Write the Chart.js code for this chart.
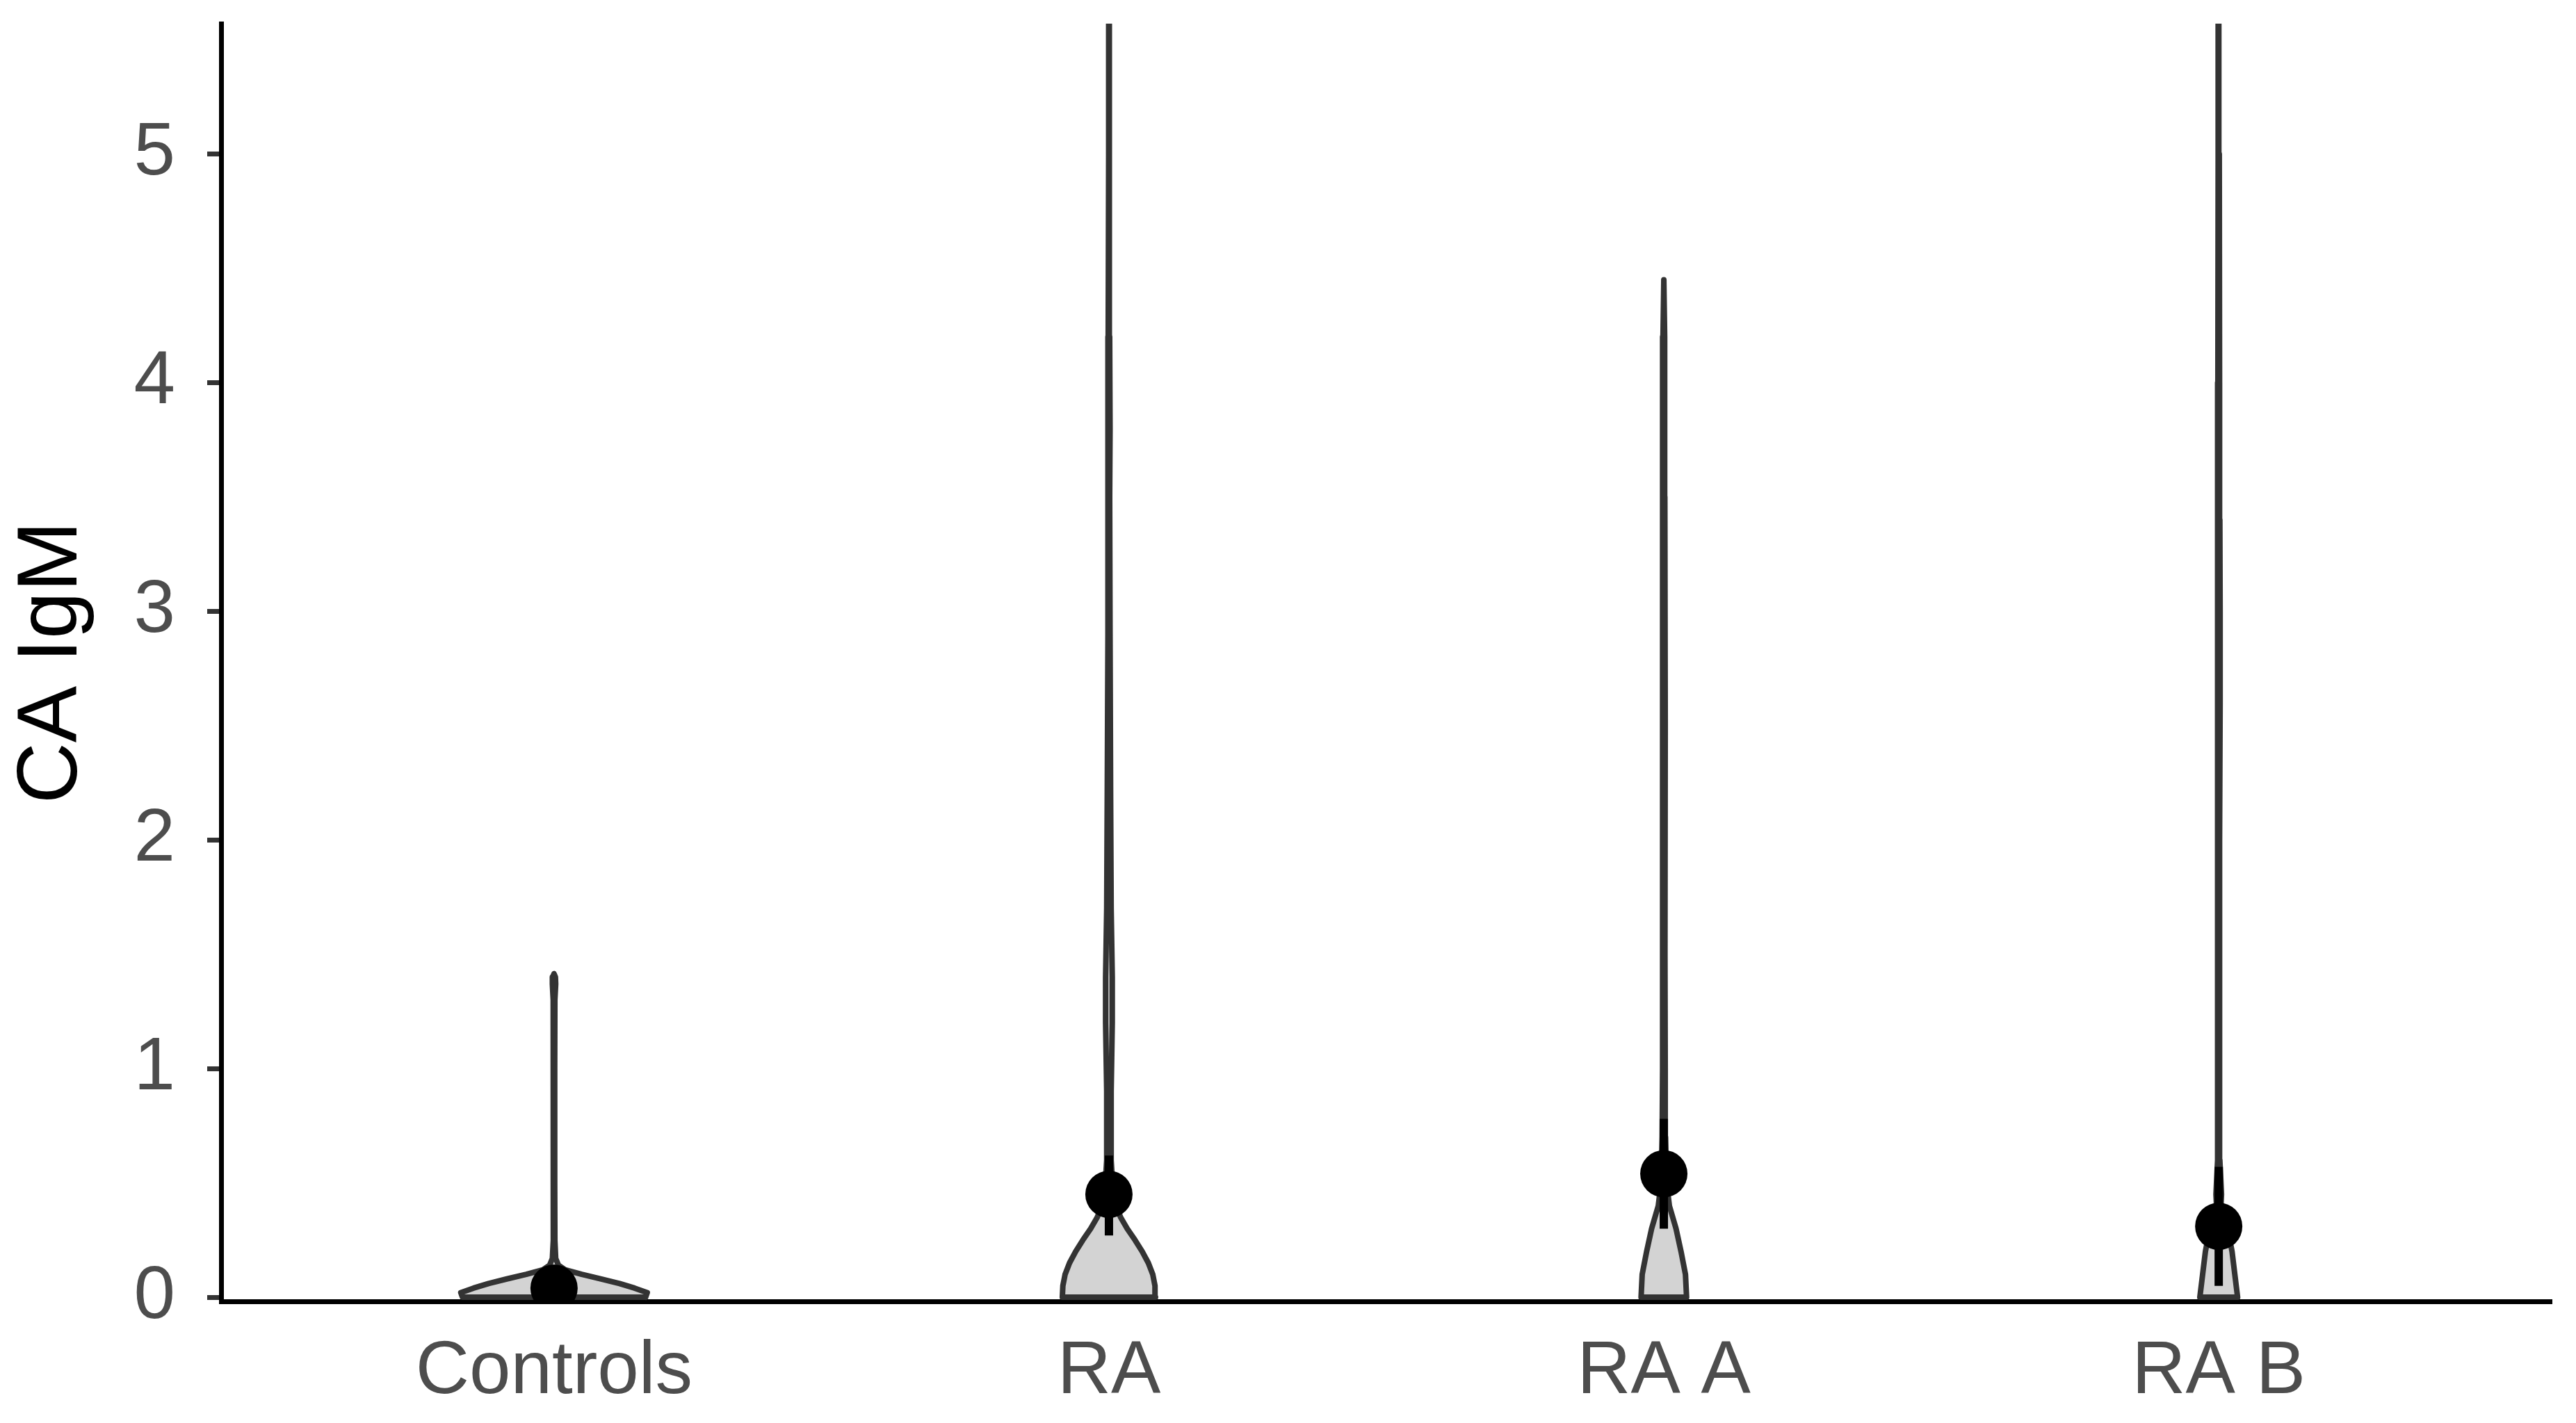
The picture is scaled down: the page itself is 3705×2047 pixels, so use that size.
<!DOCTYPE html>
<html>
<head>
<meta charset="utf-8">
<script src="https://cdn.jsdelivr.net/npm/chart.js@4.4.1/dist/chart.umd.min.js"></script>
<style>
  html, body { margin: 0; padding: 0; background: #ffffff; }
  #wrap { width: 3705px; height: 2047px; }
</style>
</head>
<body>
<div id="wrap"><canvas id="violin_chart" width="3705" height="2047"></canvas></div>
<script>
const groups = ['Controls', 'RA', 'RA A', 'RA B'];
const yTicks = [0, 1, 2, 3, 4, 5];

// violin outlines: value levels and half widths (in category units)
const controlsY  = [0, 0.02, 0.04, 0.06, 0.08, 0.10, 0.12, 0.14, 0.17, 0.25, 0.5, 1.0, 1.3, 1.37, 1.40, 1.415];
const controlsHw = [0.165, 0.168, 0.145, 0.118, 0.085, 0.05, 0.02, 0.008, 0.003, 0.0015, 0.0012, 0.0012, 0.0015, 0.003, 0.0025, 0];

const raY  = [0, 0.05, 0.1, 0.15, 0.2, 0.25, 0.3, 0.35, 0.4, 0.45, 0.52, 0.6, 0.9, 1.2, 1.4, 1.7, 2.2, 2.9, 3.5, 3.8, 4.2, 5.0, 5.6, 6.0];
const raHw = [0.084, 0.083, 0.079, 0.071, 0.060, 0.047, 0.033, 0.021, 0.013, 0.009, 0.006, 0.004, 0.004, 0.006, 0.006, 0.004, 0.003, 0.002, 0.0013, 0.002, 0.0013, 0.0008, 0.0006, 0];

const raAY  = [0, 0.1, 0.2, 0.3, 0.4, 0.5, 0.7, 1.0, 1.5, 2.5, 3.5, 4.2, 4.45];
const raAHw = [0.041, 0.039, 0.031, 0.022, 0.010, 0.005, 0.003, 0.0025, 0.002, 0.0025, 0.0018, 0.0015, 0];

const raBY  = [0, 0.1, 0.2, 0.3, 0.4, 0.45, 0.55, 0.6, 1.0, 2.0, 2.6, 3.0, 3.4, 4.0, 5.0, 6.0, 6.5];
const raBHw = [0.034, 0.029, 0.024, 0.016, 0.004, 0.005, 0.003, 0.002, 0.0015, 0.0015, 0.0025, 0.0025, 0.002, 0.0015, 0.001, 0.0005, 0];

// summary: mean with error bar
const means   = [0.04, 0.45, 0.54, 0.31];
const errLow  = [0.02, 0.27, 0.30, 0.05];
const errHigh = [0.07, 0.62, 0.78, 0.57];

const violinY  = [controlsY, raY, raAY, raBY];
const violinHw = [controlsHw, raHw, raAHw, raBHw];

function violinPoints(pos, ys, hws) {
  const right = ys.map((y, i) => ({x: pos + hws[i], y: y}));
  const left = ys.map((y, i) => ({x: pos - hws[i], y: y})).reverse();
  return right.concat(left, [right[0]]);
}

const datasets = [];

datasets.push({
  data: means.map((m, i) => ({x: i + 1, y: m})),
  showLine: false,
  pointRadius: 34,
  pointBackgroundColor: '#000000',
  pointBorderWidth: 0,
  clip: 0,
  order: 0
});

groups.forEach(function(g, i) {
  datasets.push({
    data: [{x: i + 1, y: errLow[i]}, {x: i + 1, y: errHigh[i]}],
    showLine: true,
    borderColor: '#000000',
    borderWidth: 12,
    borderCapStyle: 'butt',
    pointRadius: 0,
    clip: 0,
    order: 1
  });
});

groups.forEach(function(g, i) {
  datasets.push({
    data: violinPoints(i + 1, violinY[i], violinHw[i]),
    showLine: true,
    fill: 'shape',
    backgroundColor: '#d3d3d3',
    borderColor: '#333333',
    borderWidth: 8,
    borderJoinStyle: 'round',
    borderCapStyle: 'round',
    tension: 0,
    pointRadius: 0,
    clip: 0,
    order: 2
  });
});

const tickFont = { family: 'Liberation Sans', size: 107 };

new Chart('violin_chart', {
  type: 'scatter',
  data: { datasets: datasets },
  options: {
    responsive: false,
    animation: false,
    devicePixelRatio: 1,
    layout: { padding: { top: 28, right: 35, left: 0, bottom: 0 } },
    plugins: {
      legend: { display: false },
      tooltip: { enabled: false }
    },
    scales: {
      x: {
        type: 'linear',
        min: 0.4,
        max: 4.6,
        afterBuildTicks: (scale) => { scale.ticks = groups.map((g, i) => ({ value: i + 1 })); },
        afterFit: (scale) => {
          scale.height = 175;
          scale.paddingLeft = 0;
          scale.paddingRight = 0;
        },
        grid: { display: false, drawTicks: false },
        border: { display: true, color: '#000000', width: 7 },
        ticks: {
          autoSkip: false,
          maxRotation: 0,
          padding: 38,
          color: '#4d4d4d',
          font: tickFont,
          callback: (v) => groups[Math.round(v) - 1]
        }
      },
      y: {
        type: 'linear',
        min: -0.018,
        max: 5.57,
        afterBuildTicks: (scale) => { scale.ticks = yTicks.map((v) => ({ value: v })); },
        afterFit: (scale) => {
          scale.width = 318;
          scale.paddingTop = 0;
          scale.paddingBottom = 0;
        },
        grid: {
          display: true,
          drawOnChartArea: false,
          drawTicks: true,
          tickLength: 20,
          color: '#333333',
          lineWidth: 7
        },
        border: { display: true, color: '#000000', width: 7 },
        ticks: {
          padding: 46,
          color: '#4d4d4d',
          font: tickFont
        },
        title: {
          display: true,
          text: 'CA IgM',
          color: '#000000',
          font: { family: 'Liberation Sans', size: 122 },
          padding: { top: 3, bottom: 0 }
        }
      }
    }
  }
});
</script>
</body>
</html>
